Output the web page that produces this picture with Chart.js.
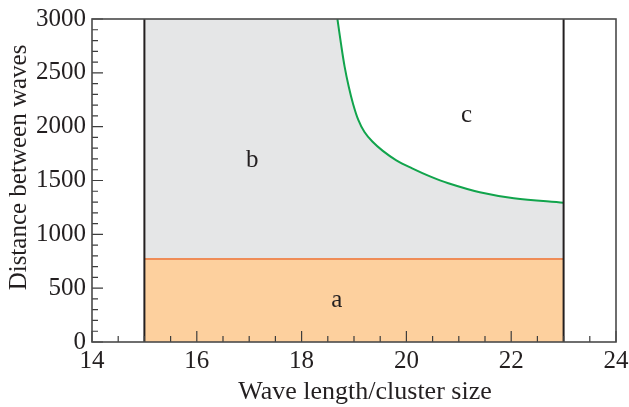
<!DOCTYPE html>
<html>
<head>
<meta charset="utf-8">
<script src="https://cdn.jsdelivr.net/npm/chart.js@4"></script>
<style>
  html, body { margin: 0; padding: 0; background: #fff; }
  #wrap { width: 629px; height: 407px; }
</style>
</head>
<body>
<div id="wrap"><canvas id="chart" width="629" height="407"></canvas></div>
<script>
const FONT = "'Liberation Serif', 'DejaVu Serif', serif";
const INK = "#231f20";

// labelled ticks
const xMajorTicks = [14, 16, 18, 20, 22, 24];
const yMajorTicks = [0, 500, 1000, 1500, 2000, 2500, 3000];

// region bounds
const xLeft = 15;
const xRight = 23;
const yTop = 3000;
const aBoundary = 770;

// green boundary between b and c
const curveX = [18.684, 18.75, 18.82, 18.9, 18.98, 19.08, 19.2, 19.35, 19.55, 19.8, 20.1, 20.45, 20.8, 21.4, 22.05, 23.0];
const curveY = [3000, 2775, 2560, 2370, 2215, 2065, 1950, 1862, 1775, 1690, 1615, 1538, 1474, 1390, 1335, 1293];

// region letters (data coords)
const regionNames = ["a", "b", "c"];
const regionX = [18.67, 17.06, 21.15];
const regionY = [390, 1690, 2100];

const curvePts = curveX.map((x, i) => ({ x, y: curveY[i] }));
const grayPts = [{ x: xLeft, y: yTop }, { x: xRight, y: yTop }];
const orangePts = [{ x: xLeft, y: aBoundary }, { x: xRight, y: aBoundary }];

const framePlugin = {
  id: "frame",
  afterDatasetsDraw(chart) {
    const { ctx, chartArea: a, scales } = chart;
    const sx = scales.x, sy = scales.y;
    ctx.save();
    ctx.fillStyle = INK;
    ctx.font = "25px " + FONT;
    ctx.textAlign = "center";
    ctx.textBaseline = "middle";
    regionNames.forEach((n, i) => {
      ctx.fillText(n, sx.getPixelForValue(regionX[i]), sy.getPixelForValue(regionY[i]));
    });
    // ticks point inward
    ctx.strokeStyle = "#3d3d3d";
    ctx.lineWidth = 1.2;
    ctx.beginPath();
    sx.ticks.forEach((t) => {
      const px = sx.getPixelForValue(t.value);
      const len = xMajorTicks.includes(t.value) ? 11 : 6;
      ctx.moveTo(px, a.bottom);
      ctx.lineTo(px, a.bottom - len);
    });
    sy.ticks.forEach((t) => {
      const py = sy.getPixelForValue(t.value);
      const len = yMajorTicks.includes(t.value) ? 11 : 6;
      ctx.moveTo(a.left, py);
      ctx.lineTo(a.left + len, py);
    });
    ctx.stroke();
    ctx.strokeStyle = "#4a4a4a";
    ctx.lineWidth = 1.6;
    ctx.strokeRect(a.left, a.top, a.right - a.left, a.bottom - a.top);
    // tick labels
    ctx.fillStyle = INK;
    ctx.textAlign = "center";
    ctx.textBaseline = "alphabetic";
    xMajorTicks.forEach((v) => ctx.fillText(String(v), sx.getPixelForValue(v), a.bottom + 26));
    ctx.textAlign = "right";
    ctx.textBaseline = "middle";
    yMajorTicks.forEach((v) => ctx.fillText(String(v), a.left - 6, sy.getPixelForValue(v)));
    // axis titles
    ctx.textAlign = "center";
    ctx.textBaseline = "alphabetic";
    ctx.font = "26px " + FONT;
    ctx.fillText("Wave length/cluster size", (a.left + a.right) / 2 + 11, 399);
    ctx.font = "25px " + FONT;
    ctx.translate(26, (a.top + a.bottom) / 2 - 13);
    ctx.rotate(-Math.PI / 2);
    ctx.fillText("Distance between waves", 0, 0);
    ctx.restore();
  },
};

function draw() {
  new Chart(document.getElementById("chart"), {
    type: "scatter",
    data: {
      datasets: [
        {
          label: "b",
          data: grayPts,
          showLine: true,
          pointRadius: 0,
          borderWidth: 0,
          borderColor: "rgba(0,0,0,0)",
          backgroundColor: "#e5e6e7",
          fill: "origin",
          order: 5,
        },
        {
          label: "a",
          data: orangePts,
          showLine: true,
          pointRadius: 0,
          borderWidth: 2,
          borderColor: "#ef8c57",
          backgroundColor: "#fdd09e",
          fill: "origin",
          order: 3,
        },
        {
          label: "c",
          data: curvePts,
          showLine: true,
          pointRadius: 0,
          borderWidth: 2,
          borderColor: "#11a44c",
          backgroundColor: "#ffffff",
          fill: "end",
          tension: 0.35,
          order: 2,
        },
        {
          label: "left",
          data: [{ x: xLeft, y: 0 }, { x: xLeft, y: yTop }],
          showLine: true,
          pointRadius: 0,
          borderWidth: 2,
          borderColor: INK,
          order: 1,
        },
        {
          label: "right",
          data: [{ x: xRight, y: 0 }, { x: xRight, y: yTop }],
          showLine: true,
          pointRadius: 0,
          borderWidth: 2,
          borderColor: INK,
          order: 1,
        },
      ],
    },
    options: {
      responsive: false,
      animation: false,
      events: [],
      layout: { padding: { top: 19, right: 13, left: 0, bottom: 0 } },
      plugins: { legend: { display: false }, tooltip: { enabled: false } },
      scales: {
        x: {
          type: "linear",
          min: 14,
          max: 24,
          grid: { display: false, drawTicks: false },
          border: { display: false },
          ticks: { stepSize: 0.5, autoSkip: false, display: false },
          afterFit: (s) => { s.height = 65; s.paddingLeft = 0; s.paddingRight = 0; },
        },
        y: {
          type: "linear",
          min: 0,
          max: 3000,
          grid: { display: false, drawTicks: false },
          border: { display: false },
          ticks: { stepSize: 100, autoSkip: false, display: false },
          afterFit: (s) => { s.width = 92; s.paddingTop = 0; s.paddingBottom = 0; },
        },
      },
    },
    plugins: [framePlugin],
  });
}

if (document.fonts && document.fonts.load) {
  document.fonts.load("25px 'Liberation Serif'").then(draw, draw);
} else {
  draw();
}
</script>
</body>
</html>
